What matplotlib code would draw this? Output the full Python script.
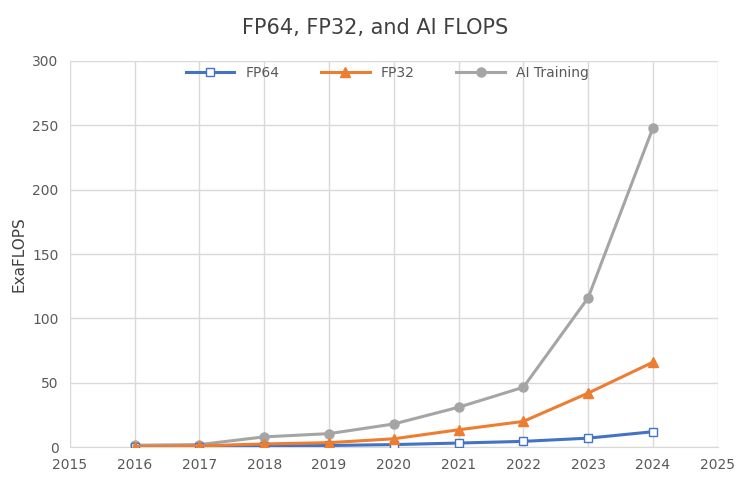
import matplotlib.pyplot as plt

years = [2016, 2017, 2018, 2019, 2020, 2021, 2022, 2023, 2024]
fp64 = [0.3, 0.5, 1.0, 1.3, 2.0, 3.2, 4.5, 7.0, 12.0]
fp32 = [0.5, 1.0, 2.5, 3.5, 6.5, 13.5, 20.0, 42.0, 66.0]
ai_training = [1.5, 2.0, 8.0, 10.5, 18.0, 31.0, 46.5, 116.0, 248.0]

fig = plt.figure(figsize=(7.5, 5.03), dpi=100)
ax = fig.add_axes([0.093, 0.111, 0.864, 0.768])

ax.plot(years, fp64, color='#4472C4', linewidth=2.2, marker='s', markersize=6,
        markerfacecolor='white', markeredgecolor='#4472C4', label='FP64', zorder=3)
ax.plot(years, fp32, color='#ED7D31', linewidth=2.2, marker='^', markersize=6.5,
        label='FP32', zorder=3)
ax.plot(years, ai_training, color='#A5A5A5', linewidth=2.2, marker='o', markersize=6.5,
        label='AI Training', zorder=2)

ax.set_xlim(2015, 2025)
ax.set_ylim(0, 300)
ax.set_xticks(range(2015, 2026))
ax.set_yticks(range(0, 301, 50))
ax.grid(True, color='#D9D9D9', linewidth=1)
ax.set_axisbelow(True)
for s in ['top', 'right', 'left']:
    ax.spines[s].set_visible(False)
ax.spines['bottom'].set_color('#D9D9D9')
ax.tick_params(length=0, labelsize=10, colors='#595959', pad=8)
ax.set_ylabel('ExaFLOPS', fontsize=11, color='#404040')

ax.legend(loc='upper center', ncol=3, frameon=False, fontsize=10,
          bbox_to_anchor=(0.49, 1.02), handlelength=3.5, columnspacing=3,
          labelcolor='#595959')
fig.suptitle('FP64, FP32, and AI FLOPS', fontsize=15, color='#404040', y=0.965)

fig.savefig('out.png', dpi=100)
